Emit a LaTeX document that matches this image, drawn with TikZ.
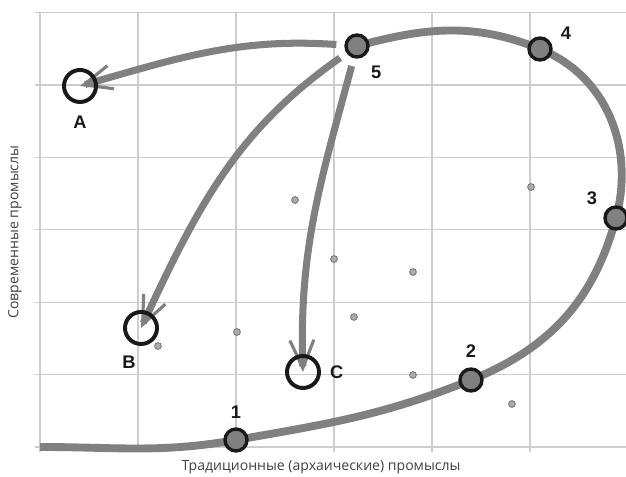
\documentclass[tikz,border=0pt]{standalone}
\usepackage{fontspec}
\setmainfont{Open Sans}
\newfontfamily\tagfont{Liberation Sans}
\usetikzlibrary{arrows.meta,positioning,backgrounds}
\definecolor{trailGray}{RGB}{128,128,128}
\definecolor{gridGray}{RGB}{205,205,205}
\definecolor{rimBlack}{RGB}{25,25,25}

\begin{document}
\begin{tikzpicture}[x=0.025cm, y=0.025cm,
  stage/.style={circle, draw=rimBlack, line width=2.4pt, fill=trailGray, minimum size=0.55cm, inner sep=0pt},
  goal/.style={circle, draw=rimBlack, line width=2.8pt, minimum size=0.8cm, inner sep=0pt},
  spot/.style={circle, draw=gray!80!black, fill=gray!65, line width=0.5pt, minimum size=0.17cm, inner sep=0pt},
  tag/.style={font=\tagfont\bfseries\fontsize{13}{15}\selectfont, text=rimBlack, inner sep=0pt},
  axis/.style={font=\fontsize{10}{12}\selectfont, text=black!75},
  trail/.style={trailGray, line width=5.6pt},
  shot/.style={trailGray, line width=5pt, shorten <=0.2cm,
    -{Straight Barb[length=7mm, width=6mm, line width=2.2pt]}}]
  \useasboundingbox (0,0) rectangle (626,477);

  % stages of the path
  \coordinate (origin) at (40,30);
  \node[stage] (p1) at (236,37) {};
  \node[stage] (p2) at (471,97) {};
  \node[stage] (p3) at (616,259) {};
  \node[stage] (p4) at (540,428) {};
  \node[stage] (p5) at (357,431) {};
  \node[tag, above=0.22cm of p1] (t1) {1};
  \node[tag, above=0.24cm of p2] (t2) {2};
  \node[tag, above left=0.09cm and 0.24cm of p3] (t3) {3};
  \node[tag, above right=0cm and 0.29cm of p4] (t4) {4};
  \node[tag, below right=0.27cm and 0.12cm of p5] (t5) {5};

  % targets
  \node[goal] (A) at (80,391) {};
  \node[goal] (B) at (141,149) {};
  \node[goal] (C) at (303,105) {};
  \node[tag, below=0.28cm of A] (tA) {A};
  \node[tag, below=0.25cm of B, xshift=-0.3cm] (tB) {B};
  \node[tag, right=0.22cm of C] (tC) {C};

  % scattered cases
  \foreach \x/\y [count=\k] in {295/277, 334/218, 413/205, 354/160, 237/145,
      158/131, 413/102, 512/73, 531/290}
    \node[spot] (s\k) at (\x,\y) {};

  \node[axis] (xlab) at (321,10) {Традиционные (архаические) промыслы};
  \node[axis, rotate=90] (ylab) at (15,245) {Современные промыслы};

  \begin{scope}[on background layer]
    \foreach \i in {0,...,5}
      \draw[gridGray, line width=0.8pt] ({40+98*\i},25) -- ({40+98*\i},464.5);
    \foreach \j in {0,...,6}
      \draw[gridGray, line width=0.8pt] (35,{30+72.4*\j}) -- (626,{30+72.4*\j});
    \draw[trail] (origin) to[out=0, in=190] (p1.center)
      to[out=10, in=202] (p2.center) to[out=22, in=-105] (p3.center)
      to[out=75, in=-22] (p4.center) to[out=158, in=15] (p5.center);
    \draw[shot] (p5) to[out=176, in=16] (A.center);
    \draw[shot] (p5) to[out=215, in=65] (B.center);
    \draw[shot] (p5) to[out=255, in=92] (C.center);
  \end{scope}
\end{tikzpicture}
\end{document}
